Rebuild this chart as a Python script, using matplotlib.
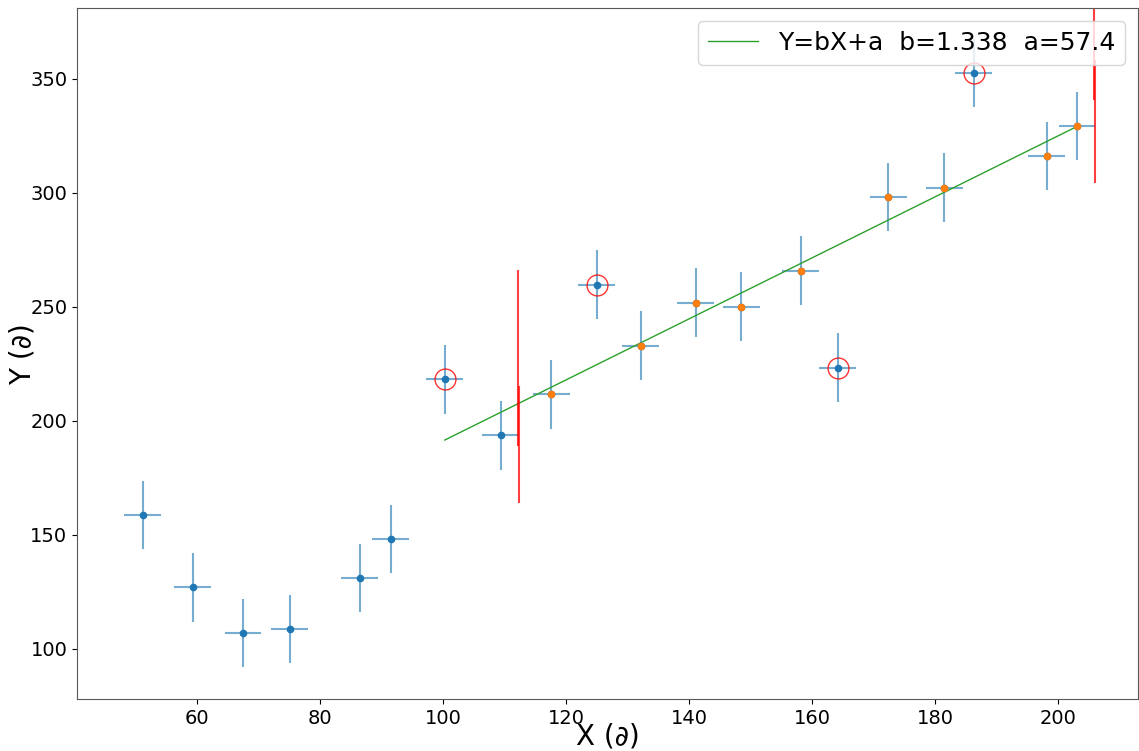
import numpy as np
import matplotlib
matplotlib.use('Agg')
import matplotlib.pyplot as plt

x_vals = [51.2, 59.3, 67.5, 75.1, 86.5, 91.5, 100.3, 109.4, 117.6, 125.0,
          132.2, 141.1, 148.5, 158.2, 164.2, 172.4, 181.5, 186.3, 198.2, 203.1]
y_vals = [158.6, 127.0, 106.9, 108.6, 131.0, 148.1, 218.2, 193.6, 211.6, 259.8,
          233.0, 251.9, 250.1, 265.9, 223.4, 298.3, 302.3, 352.6, 316.3, 329.4]
x_err = 3.0
y_err = 15.0

# indices used in the fit (orange) and rejected outliers (circled)
fit_idx = [8, 10, 11, 12, 13, 15, 16, 18, 19]
outlier_idx = [6, 9, 14, 17]

fit_b = 1.338
fit_a = 57.4
fit_range = [100.3, 203.1]

# red vertical bars: (x, ymin, ymax)
red_bars = [(112.2, 188.8, 266.3), (112.3, 163.8, 215.1),
            (205.9, 340.8, 395.0), (206.0, 304.4, 358.3)]

x = np.array(x_vals)
y = np.array(y_vals)

fig = plt.figure(figsize=(11.39, 7.51), dpi=100)
ax = fig.add_axes([0.0676, 0.0692, 0.9314, 0.9198])

ax.errorbar(x, y, xerr=x_err, yerr=y_err, fmt='none', ecolor='C0',
            elinewidth=1.5, alpha=0.6, zorder=1)
ax.plot(x, y, 'o', color='C0', ms=4.5, ls='none', zorder=3)
ax.plot(x[fit_idx], y[fit_idx], 'o', color='C1', ms=4.5, ls='none', zorder=4)
ax.plot(x[outlier_idx], y[outlier_idx], 'o', ms=15, mfc='none', mec='red',
        mew=1.0, alpha=0.8, ls='none', zorder=5)

xf = np.array(fit_range)
ax.plot(xf, fit_b * xf + fit_a, color='C2', lw=1, zorder=2,
        label='Y=bX+a  b=%.3f  a=%.1f' % (fit_b, fit_a))

for bx, b0, b1 in red_bars:
    ax.vlines(bx, b0, b1, color='red', lw=1.5, alpha=0.75, zorder=2)

ax.set_xlim(40.5, 213.0)
ax.set_ylim(78, 381)
ax.set_xticks([60, 80, 100, 120, 140, 160, 180, 200])
ax.set_yticks([100, 150, 200, 250, 300, 350])
ax.tick_params(labelsize=14)
for s in ax.spines.values():
    s.set_color('0.35')

ax.set_xlabel('X (∂)', fontsize=20)
ax.set_ylabel('Y (∂)', fontsize=20)
ax.xaxis.set_label_coords(0.5, -0.034)
ax.yaxis.set_label_coords(-0.038, 0.5)
leg = ax.legend(loc='upper right', fontsize=18, handlelength=2.0)
leg.set_zorder(10)

fig.savefig('out.png', dpi=100)
